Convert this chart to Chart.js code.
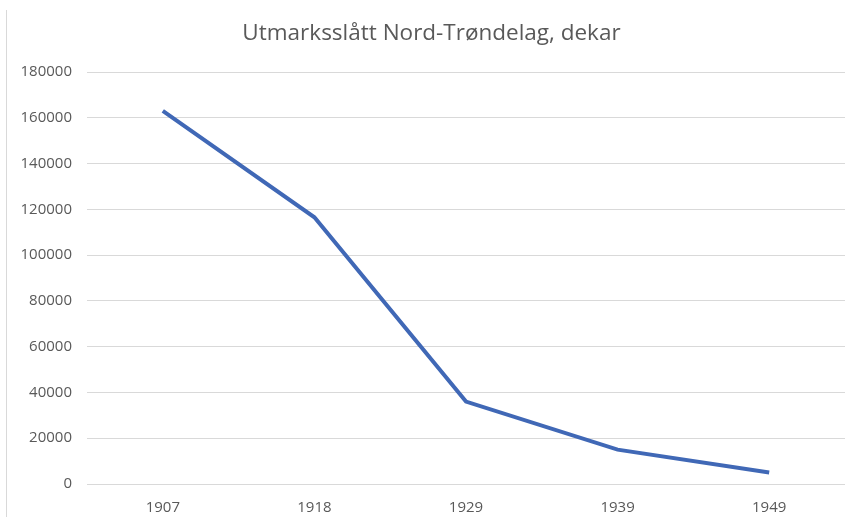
<!DOCTYPE html>
<html>
<head>
<meta charset="utf-8">
<script src="https://cdn.jsdelivr.net/npm/chart.js@4"></script>
<style>
  html, body { margin: 0; padding: 0; background: #fff; }
  #wrap { position: relative; width: 856px; height: 517px; }
  #kant { position: absolute; left: 6px; top: 10px; width: 1px; height: 507px; background: #d9d9d9; }
</style>
</head>
<body>
<div id="wrap">
  <div id="kant"></div>
  <canvas id="graf" width="856" height="517"></canvas>
</div>
<script>
// Data lest av figuren
const aar = ['1907', '1918', '1929', '1939', '1949'];
const dekar = [163000, 116500, 36000, 15000, 5000];
const yMaks = 180000;
const ySteg = 20000;

const font = "'Open Sans', 'Liberation Sans', sans-serif";

const ctx = document.getElementById('graf').getContext('2d');
new Chart(ctx, {
    type: 'line',
    data: {
        labels: aar,
        datasets: [{
            label: 'Utmarksslått',
            data: dekar,
            borderColor: '#4068B6',
            borderWidth: 4,
            pointRadius: 0,
            tension: 0,
            fill: false
        }]
    },
    options: {
        responsive: false,
        animation: false,
        layout: { padding: { left: 18, right: 11, top: 0, bottom: 0 } },
        plugins: {
            legend: { display: false },
            tooltip: { enabled: false },
            title: {
                display: true,
                text: 'Utmarksslått Nord-Trøndelag, dekar',
                color: '#595959',
                font: { family: font, size: 22.5, weight: 'normal', lineHeight: 1.2 },
                padding: { top: 20, bottom: 25 }
            }
        },
        scales: {
            x: {
                offset: true,
                grid: { display: false },
                border: { display: false },
                ticks: { color: '#595959', font: { family: font, size: 15 }, padding: 7 },
                afterFit: s => { s.height = 33; }
            },
            y: {
                min: 0,
                max: yMaks,
                grid: { color: '#d9d9d9', lineWidth: 1, drawTicks: false },
                border: { display: false },
                ticks: {
                    stepSize: ySteg,
                    color: '#595959',
                    font: { family: font, size: 15 },
                    padding: 15,
                    callback: v => String(v) // uten tusenskilletegn
                },
                afterFit: s => { s.width = 69; }
            }
        }
    }
});
</script>
</body>
</html>
